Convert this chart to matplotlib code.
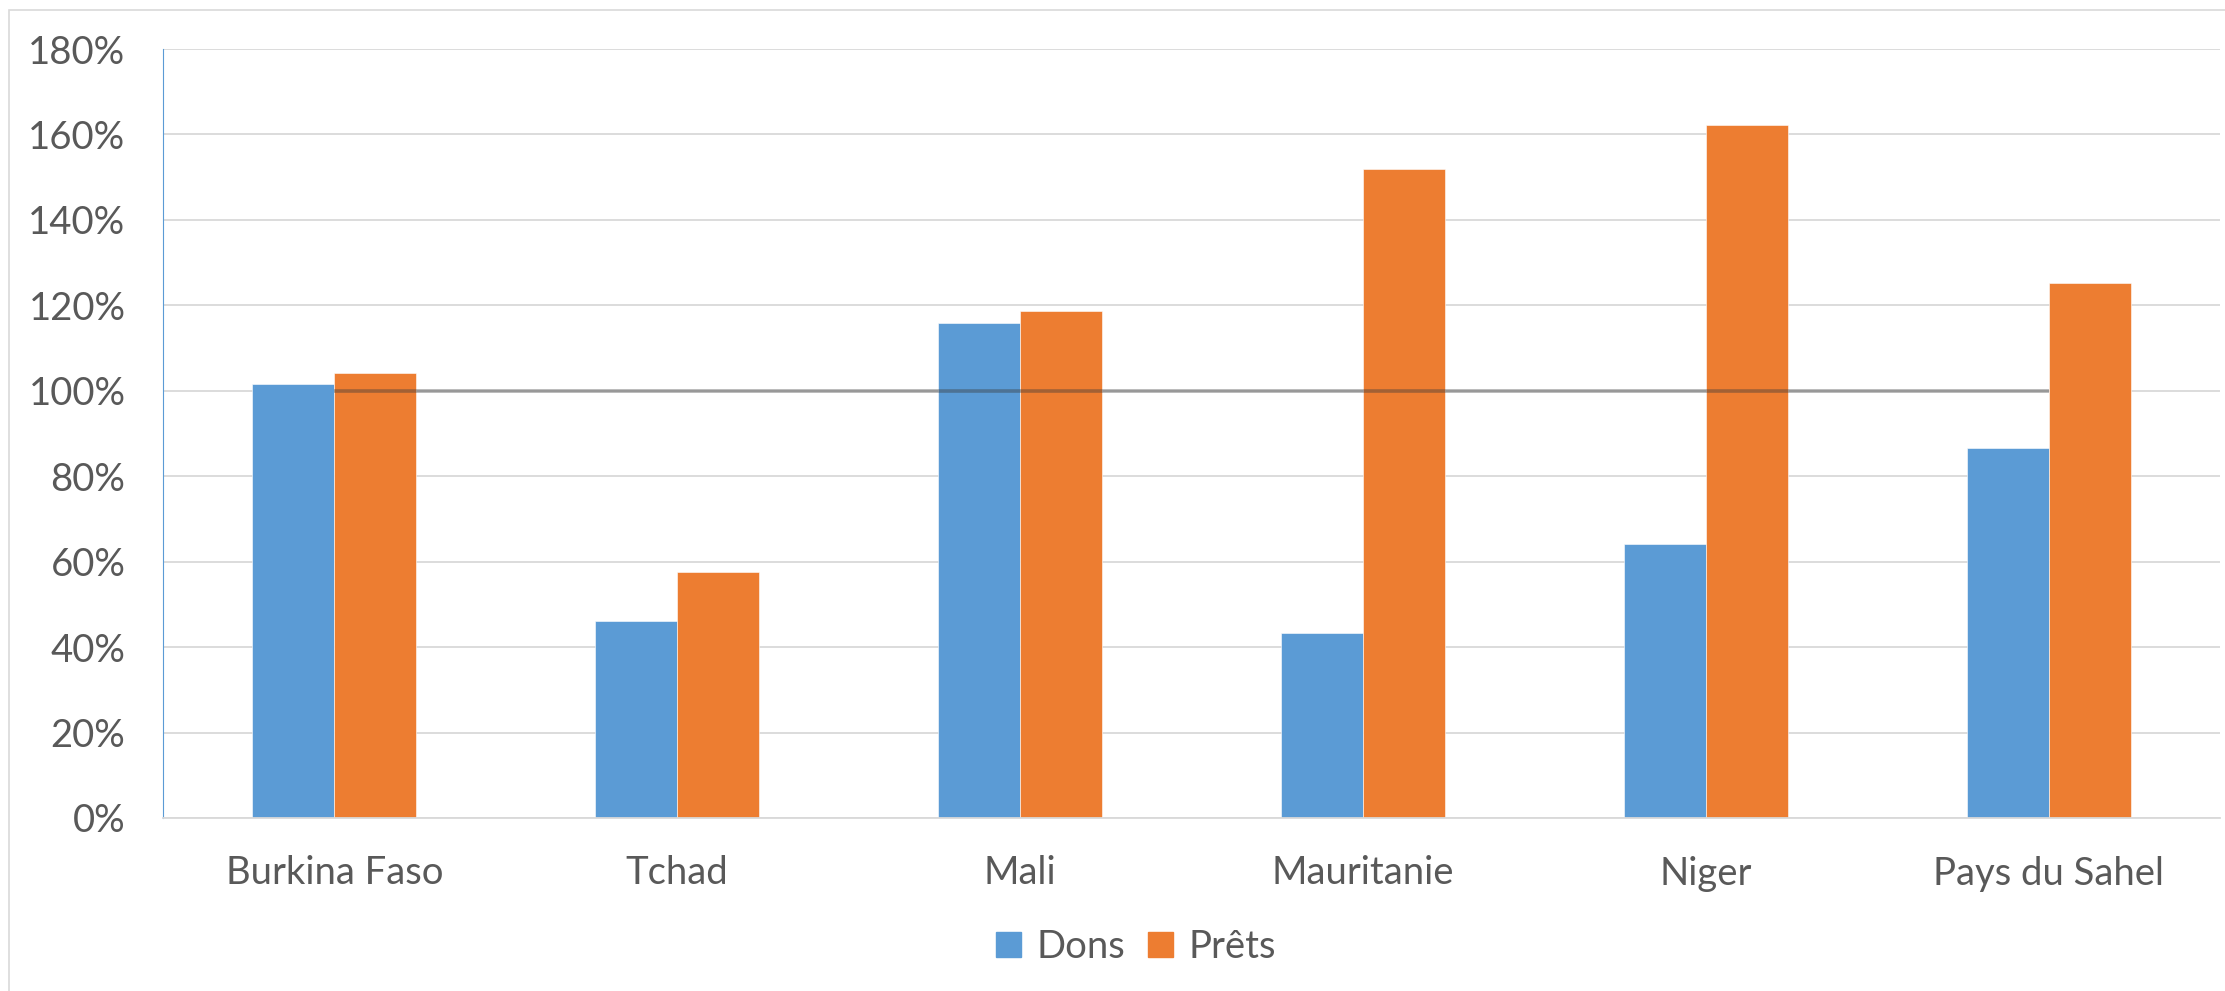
import matplotlib
matplotlib.use("Agg")
import numpy as np
import matplotlib.pyplot as plt
from matplotlib.patches import Patch, Rectangle
from matplotlib.ticker import FuncFormatter

# ─── Données ──────────────────────────────────────────────────────────────────
pays = ["Burkina Faso", "Tchad", "Mali", "Mauritanie", "Niger", "Pays du Sahel"]
dons = [101.7, 46.2, 115.8, 43.2, 64.1, 86.7]
prets = [104.1, 57.5, 118.6, 151.8, 162.3, 125.2]
reference = [100, 100, 100, 100, 100, 100]

BLEU = "#5B9BD5"
ORANGE = "#ED7D31"
TEXTE = "#595959"
GRILLE = "#D9D9D9"

plt.rcParams["font.family"] = ["Lato", "DejaVu Sans"]

fig = plt.figure(figsize=(22.25, 9.91), dpi=100)
ax = fig.add_axes([163 / 2225, 1 - 818 / 991, (2220 - 163) / 2225, (818 - 49) / 991])

x = np.arange(len(pays))
w = 0.239
ax.bar(x - w / 2, dons, w, color=BLEU, edgecolor="white", linewidth=0.4, zorder=2)
ax.bar(x + w / 2, prets, w, color=ORANGE, edgecolor="white", linewidth=0.4, zorder=2)
ax.plot(x, reference, color="#3a3a3a", alpha=0.42, linewidth=2.6, zorder=3,
        solid_capstyle="butt")

ax.set_xlim(-0.5, len(pays) - 0.5)
ax.set_ylim(0, 180)
ax.set_yticks(range(0, 181, 20))
ax.yaxis.set_major_formatter(FuncFormatter(lambda v, _: f"{v:.0f}%"))
ax.set_xticks(x)
ax.set_xticklabels(pays)
ax.tick_params(axis="both", length=0, labelsize=27.5, labelcolor=TEXTE)
ax.tick_params(axis="y", pad=27)
ax.tick_params(axis="x", pad=27)

ax.grid(True, axis="y", color=GRILLE, linewidth=1.3, zorder=0)
ax.set_axisbelow(True)
for s in ["top", "right"]:
    ax.spines[s].set_visible(False)
ax.spines["left"].set_color(BLEU)
ax.spines["left"].set_linewidth(0.8)
ax.spines["bottom"].set_color(GRILLE)
ax.spines["bottom"].set_linewidth(1.3)

# cadre du graphique
fig.patches.append(Rectangle((9 / 2225, -0.05), 1.1, 1 - 10 / 991 + 0.05,
                             transform=fig.transFigure, fill=False,
                             edgecolor=GRILLE, linewidth=1.2))

handles = [Patch(color=BLEU, label="Dons"), Patch(color=ORANGE, label="Prêts")]
fig.legend(handles=handles, loc="center", bbox_to_anchor=(1136 / 2225, 1 - 947 / 991),
           ncol=2, frameon=False, fontsize=27.5, labelcolor=TEXTE,
           handlelength=0.65, handleheight=0.65, handletextpad=0.4, columnspacing=0.6)

fig.savefig("out.png", dpi=100, facecolor="white")
